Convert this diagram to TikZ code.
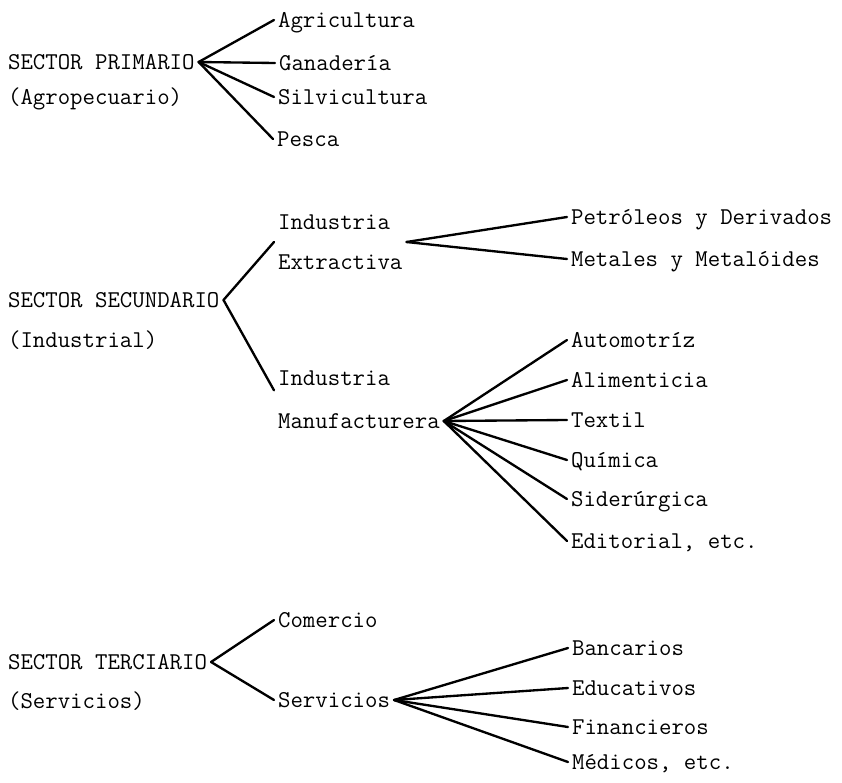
\documentclass[tikz,border=0pt]{standalone}
\usepackage{fontspec}
\usepackage{tikz}

\begin{document}
\begin{tikzpicture}[
  x=0.03cm,y=-0.03cm,
  line/.style={line width=2pt,draw=black,line cap=round},
  lbl/.style={font=\ttfamily\fontsize{20.6}{34}\selectfont,anchor=west,inner sep=1.5pt,outer sep=2pt,text height=13pt,text depth=1pt},
  lbltwo/.style={font=\ttfamily\fontsize{20.6}{34}\selectfont,anchor=west,inner sep=1.5pt,outer sep=2pt,align=left}
]
\useasboundingbox (0,0) rectangle (842,782);

% Sector primario
\node[lbl] (sp) at (4,62) {SECTOR PRIMARIO};
\node[lbl] (spsub) at (4,97) {(Agropecuario)};
\node[lbl] (agr) at (274,20) {Agricultura};
\node[lbl] (gan) at (275,63) {Ganadería};
\node[lbl] (sil) at (274,97) {Silvicultura};
\node[lbl] (pes) at (273,139) {Pesca};
\draw[line] (sp.east) -- (agr.west);
\draw[line] (sp.east) -- (gan.west);
\draw[line] (sp.east) -- (sil.west);
\draw[line] (sp.east) -- (pes.west);

% Sector secundario
\node[lbl] (ss) at (4,300) {SECTOR SECUNDARIO};
\node[lbl] (sssub) at (4,340) {(Industrial)};
\node[lbltwo] (iext) at (274,242) {Industria\\Extractiva};
\node[lbl] (iman) at (274,378) {Industria};
\node[lbl] (man) at (274,421) {Manufacturera};
\draw[line] (ss.east) -- (iext.west);
\draw[line] (ss.east) -- (iman.south west);

% Industria extractiva
\node[lbl] (pet) at (567,217) {Petróleos y Derivados};
\node[lbl] (met) at (567,259) {Metales y Metalóides};
\draw[line] (iext.east) -- (pet.west);
\draw[line] (iext.east) -- (met.west);

% Industria manufacturera
\node[lbl] (aut) at (567,340) {Automotríz};
\node[lbl] (ali) at (567,380) {Alimenticia};
\node[lbl] (tex) at (567,420) {Textil};
\node[lbl] (qui) at (567,460) {Química};
\node[lbl] (sid) at (567,499) {Siderúrgica};
\node[lbl] (edi) at (567,541) {Editorial, etc.};
\draw[line] (man.east) -- (aut.west);
\draw[line] (man.east) -- (ali.west);
\draw[line] (man.east) -- (tex.west);
\draw[line] (man.east) -- (qui.west);
\draw[line] (man.east) -- (sid.west);
\draw[line] (man.east) -- (edi.west);

% Sector terciario
\node[lbl] (st) at (4,662) {SECTOR TERCIARIO};
\node[lbl] (stsub) at (4,701) {(Servicios)};
\node[lbl] (com) at (274,620) {Comercio};
\node[lbl] (ser) at (274,700) {Servicios};
\draw[line] (st.east) -- (com.west);
\draw[line] (st.east) -- (ser.west);

% Servicios
\node[lbl] (ban) at (568,648) {Bancarios};
\node[lbl] (edu) at (568,688) {Educativos};
\node[lbl] (fin) at (568,727) {Financieros};
\node[lbl] (med) at (568,762) {Médicos, etc.};
\draw[line] (ser.east) -- (ban.west);
\draw[line] (ser.east) -- (edu.west);
\draw[line] (ser.east) -- (fin.west);
\draw[line] (ser.east) -- (med.west);

\end{tikzpicture}
\end{document}
